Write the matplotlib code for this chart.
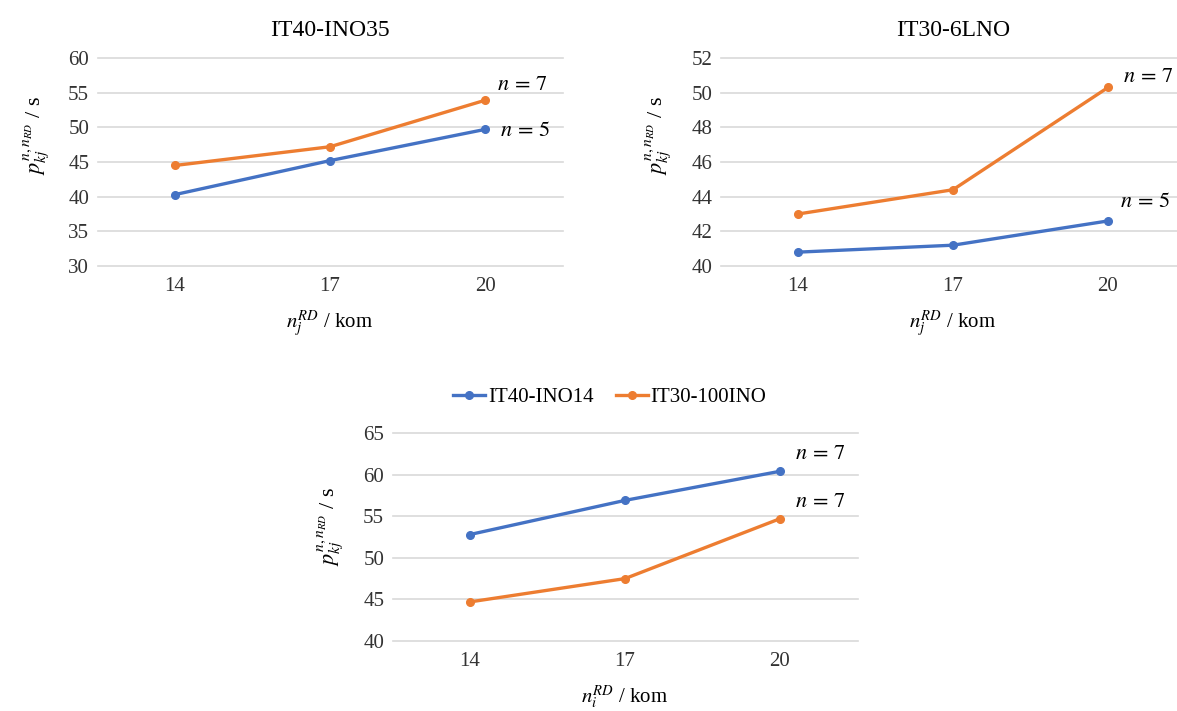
import matplotlib
matplotlib.use("Agg")
import matplotlib.pyplot as plt

plt.rcParams['font.family'] = ['Liberation Serif', 'DejaVu Serif']
plt.rcParams['mathtext.fontset'] = 'stix'

BLUE = "#4472C4"
ORANGE = "#ED7D31"

categories = ["14", "17", "20"]

# top left: IT40-INO35
tl_blue = [40.3, 45.2, 49.7]
tl_orange = [44.5, 47.2, 53.9]
# top right: IT30-6LNO
tr_blue = [40.8, 41.2, 42.6]
tr_orange = [43.0, 44.4, 50.3]
# bottom
b_blue = [52.8, 56.9, 60.4]
b_orange = [44.7, 47.5, 54.7]

series_names = ["IT40-INO14", "IT30-100INO"]

W, H = 1177, 711
fig = plt.figure(figsize=(W / 100, H / 100), dpi=100)


def px_axes(left, right, top, bottom):
	return fig.add_axes([left / W, 1 - bottom / H, (right - left) / W, (bottom - top) / H])


def style(ax, ylim, yticks, xlab, ylab_y):
	x = range(len(categories))
	ax.set_xlim(-0.5, len(categories) - 0.5)
	ax.set_ylim(*ylim)
	ax.set_yticks(yticks)
	ax.set_xticks(list(x))
	ax.set_xticklabels(categories)
	ax.grid(True, axis="y", color="#d9d9d9", linewidth=1.2)
	for g in ax.get_ygridlines():
		g.set_clip_on(False)
	ax.set_axisbelow(True)
	for s in ax.spines.values():
		s.set_visible(False)
	ax.tick_params(length=0, labelsize=15, colors="#333333", pad=8)
	ax.tick_params(axis="y", pad=6)
	ax.set_ylabel(r"$p_{kj}^{n,n_{RD}}$ / s", fontsize=16, labelpad=12)
	ax.yaxis.label.set_y(ylab_y)
	ax.set_xlabel(xlab, fontsize=15, labelpad=9)


def draw(ax, blue, orange):
	x = range(len(categories))
	l1, = ax.plot(x, blue, color=BLUE, lw=2.4, marker="o", ms=5.5, label=series_names[0])
	l2, = ax.plot(x, orange, color=ORANGE, lw=2.4, marker="o", ms=5.5, label=series_names[1])
	return l1, l2


def note(ax, xi, yv, txt, dx, dy):
	ax.annotate(txt, xy=(xi, yv), xytext=(dx, dy), textcoords="offset pixels",
		fontsize=16, va="center", ha="left", annotation_clip=False)


# top left
ax1 = px_axes(97.5, 562.5, 58, 266)
draw(ax1, tl_blue, tl_orange)
style(ax1, (30, 60), range(30, 61, 5), r"$n_j^{RD}$ / kom", 0.63)
ax1.set_title("IT40-INO35", fontsize=17, pad=16)
note(ax1, 2, tl_orange[2], r"$n\,=\,7$", 12, 15)
note(ax1, 2, tl_blue[2], r"$n\,=\,5$", 15, -2)

# top right
ax2 = px_axes(720.5, 1185.5, 58, 266)
draw(ax2, tr_blue, tr_orange)
style(ax2, (40, 52), range(40, 53, 2), r"$n_j^{RD}$ / kom", 0.63)
ax2.set_title("IT30-6LNO", fontsize=17, pad=16)
note(ax2, 2, tr_orange[2], r"$n\,=\,7$", 15, 10)
note(ax2, 2, tr_blue[2], r"$n\,=\,5$", 12, 18)

# bottom
ax3 = px_axes(392.5, 857.5, 433, 641)
h = draw(ax3, b_blue, b_orange)
style(ax3, (40, 65), range(40, 66, 5), r"$n_i^{RD}$ / kom", 0.55)
note(ax3, 2, b_blue[2], r"$n\,=\,7$", 15, 17)
note(ax3, 2, b_orange[2], r"$n\,=\,7$", 15, 16)

fig.legend(h, series_names, loc="center", bbox_to_anchor=(610 / W, 1 - 397 / H),
	ncol=2, frameon=False, fontsize=15, handlelength=1.5, columnspacing=1.1,
	handletextpad=0.15)

fig.savefig("out.png", dpi=100)
